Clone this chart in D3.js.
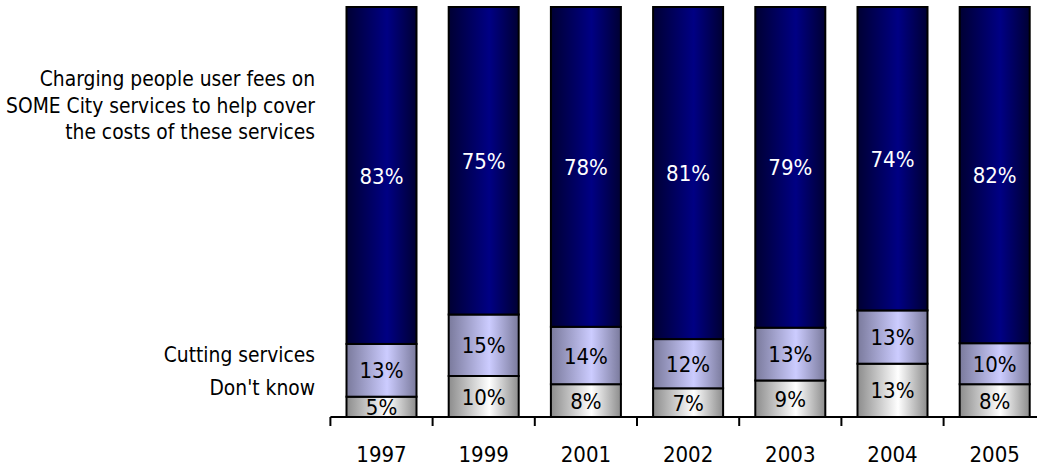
<!DOCTYPE html>
<html>
<head>
<meta charset="utf-8">
<script src="https://cdn.jsdelivr.net/npm/d3@7"></script>
<style>
  html, body { margin: 0; padding: 0; background: #fff; }
  svg { display: block; font-family: "DejaVu Sans Condensed", "DejaVu Sans", sans-serif; font-stretch: condensed; }
</style>
</head>
<body>
<svg width="1037" height="467"></svg>
<script>
// chart values
var years = ["1997", "1999", "2001", "2002", "2003", "2004", "2005"];
var dontKnow = [5, 10, 8, 7, 9, 13, 8];
var cutting = [13, 15, 14, 12, 13, 13, 10];
var charging = [83, 75, 78, 81, 79, 74, 82];
var seriesNames = ["Don't know", "Cutting services",
  "Charging people user fees on SOME City services to help cover the costs of these services"];

var rows = years.map(function(y, i) {
  return { year: y, dk: dontKnow[i], cut: cutting[i], fee: charging[i] };
});

var svg = d3.select("svg"),
  margin = {top: 7, left: 330.4},
  baseY = 417,
  step = 102.2;

var x = d3.scaleBand()
  .domain(years)
  .range([margin.left, margin.left + step * years.length])
  .paddingInner(0.315)
  .paddingOuter(0.1575);

var y = d3.scaleLinear().domain([0, 1]).range([baseY, margin.top]);

var stack = d3.stack().keys(["dk", "cut", "fee"]).offset(d3.stackOffsetExpand);
var layers = stack(rows);

// gradients, lit a bit right of centre like the Excel fills
var defs = svg.append("defs");
var grads = [
  { id: "gDk", edge: "#8c8c8c", mid: "#ffffff" },
  { id: "gCut", edge: "#7a7a9c", mid: "#ccccff" },
  { id: "gFee", edge: "#000033", mid: "#000084" }
];
grads.forEach(function(g) {
  var lg = defs.append("linearGradient").attr("id", g.id)
    .attr("x1", "0%").attr("x2", "100%").attr("y1", "0%").attr("y2", "0%");
  lg.append("stop").attr("offset", "0%").attr("stop-color", g.edge);
  lg.append("stop").attr("offset", "58%").attr("stop-color", g.mid);
  lg.append("stop").attr("offset", "100%").attr("stop-color", g.edge);
});

defs.append("clipPath").attr("id", "plotClip")
  .append("rect").attr("x", 0).attr("y", 0).attr("width", 1037).attr("height", baseY);

var plot = svg.append("g").attr("clip-path", "url(#plotClip)");

var layerG = plot.selectAll("g.layer")
  .data(layers)
  .enter().append("g")
  .attr("class", "layer")
  .attr("fill", function(d, i) { return "url(#" + grads[i].id + ")"; });

layerG.selectAll("rect")
  .data(function(d) { return d; })
  .enter().append("rect")
  .attr("x", function(d) { return x(d.data.year); })
  .attr("y", function(d) { return y(d[1]); })
  .attr("width", x.bandwidth())
  .attr("height", function(d) { return y(d[0]) - y(d[1]); })
  .attr("stroke", "#000")
  .attr("stroke-width", 2);

// value labels
layerG.selectAll("text")
  .data(function(d) { return d.map(function(p) { return { p: p, key: d.key }; }); })
  .enter().append("text")
  .attr("x", function(d) { return x(d.p.data.year) + x.bandwidth() / 2; })
  .attr("y", function(d) { return (y(d.p[0]) + y(d.p[1])) / 2; })
  .attr("dy", "0.37em")
  .attr("text-anchor", "middle")
  .attr("font-size", 22)
  .attr("fill", function(d) { return d.key == "fee" ? "#fff" : "#000"; })
  .text(function(d) { return d.p.data[d.key] + "%"; });

// axis: line along the bottom, ticks between categories
var axisG = svg.append("g");
var x0 = x.range()[0];
axisG.append("line")
  .attr("x1", x0).attr("x2", 1037)
  .attr("y1", baseY).attr("y2", baseY)
  .attr("stroke", "#000").attr("stroke-width", 2);
d3.range(years.length + 1).forEach(function(i) {
  axisG.append("line")
    .attr("x1", x0 + i * x.step()).attr("x2", x0 + i * x.step())
    .attr("y1", baseY).attr("y2", baseY + 9)
    .attr("stroke", "#000").attr("stroke-width", 2);
});
axisG.selectAll("text.tick")
  .data(years)
  .enter().append("text")
  .attr("class", "tick")
  .attr("x", function(d) { return x(d) + x.bandwidth() / 2; })
  .attr("y", 462)
  .attr("text-anchor", "middle")
  .attr("font-size", 22)
  .text(function(d) { return d; });

// series labels on the left
var legendX = 315, legendSize = 20.8;
var feeLines = ["Charging people user fees on", "SOME City services to help cover", "the costs of these services"];
var feeText = svg.append("text")
  .attr("text-anchor", "end")
  .attr("font-size", legendSize);
feeLines.forEach(function(t, i) {
  feeText.append("tspan").attr("x", legendX).attr("y", 86 + i * 26.5).text(t);
});
svg.append("text").attr("x", legendX).attr("y", 362)
  .attr("text-anchor", "end").attr("font-size", legendSize).text(seriesNames[1]);
svg.append("text").attr("x", legendX).attr("y", 395)
  .attr("text-anchor", "end").attr("font-size", legendSize).text(seriesNames[0]);
</script>
</body>
</html>
